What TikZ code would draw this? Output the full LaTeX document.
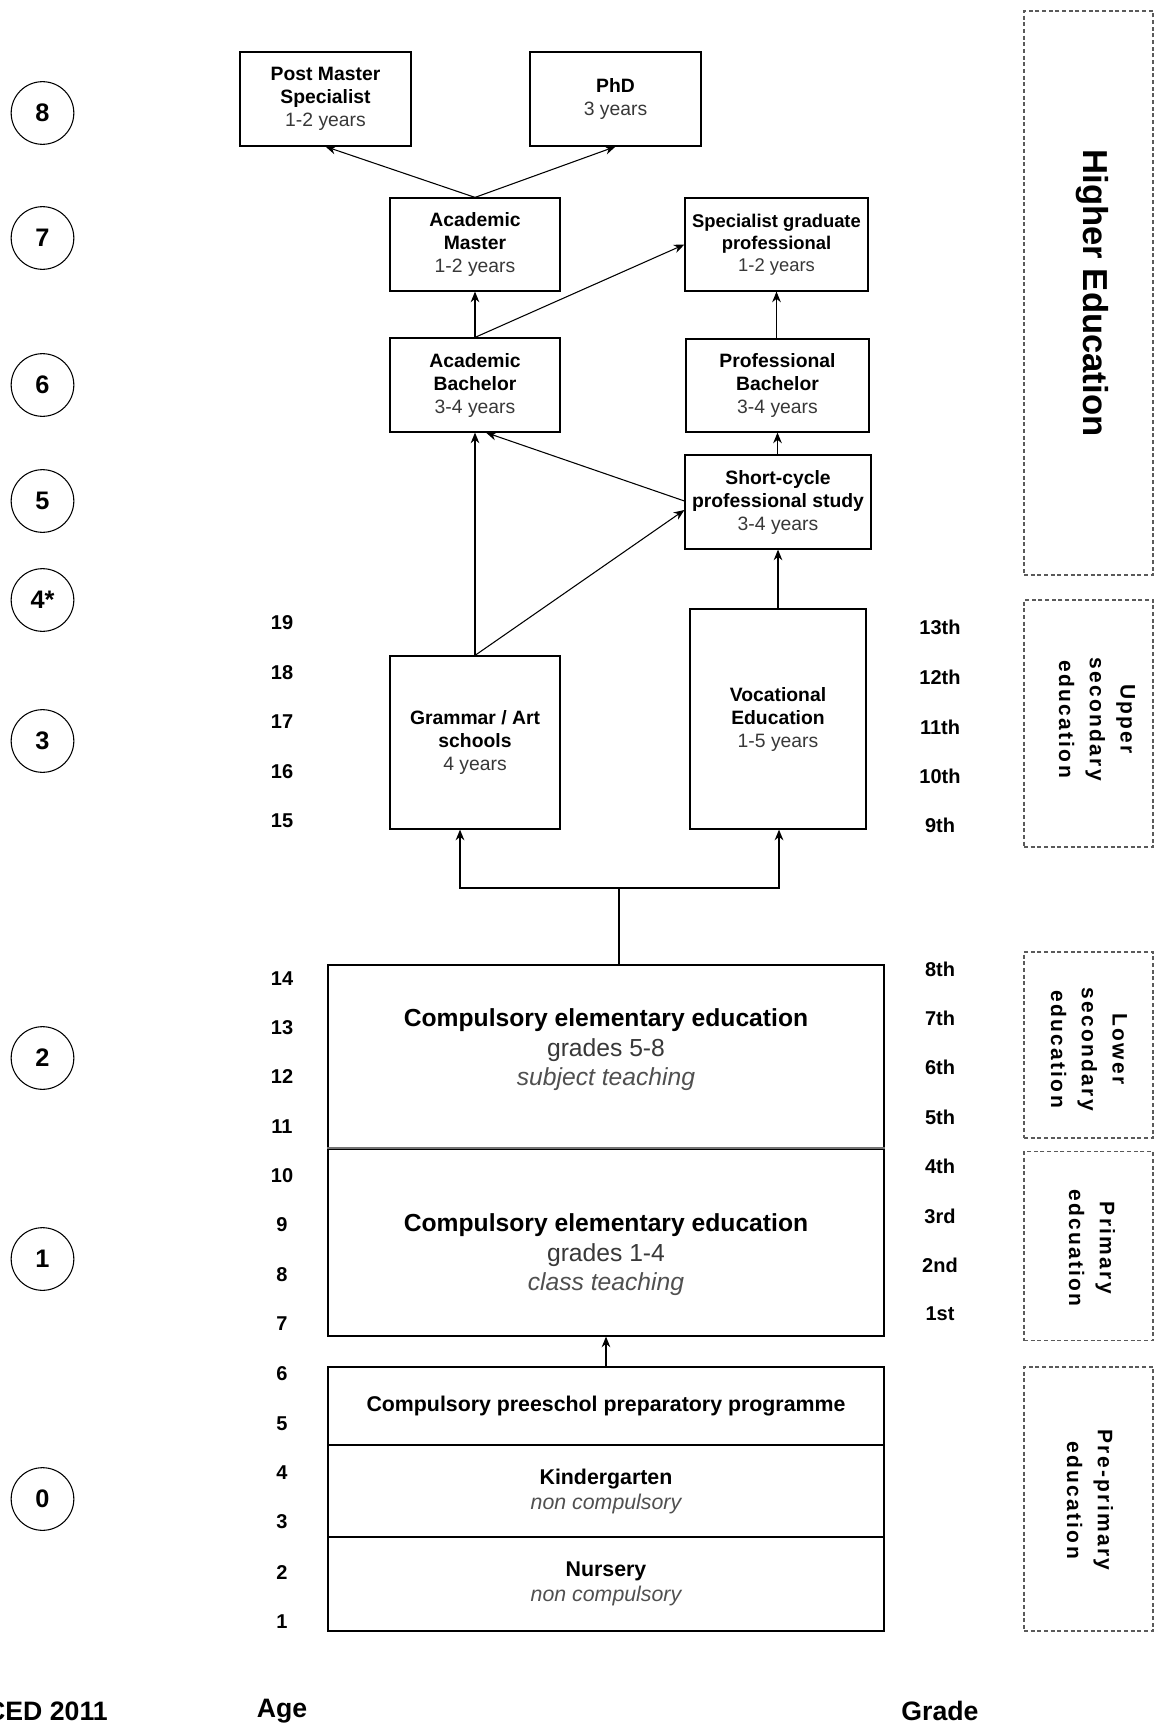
\documentclass[tikz,border=0pt]{standalone}
\usepackage{fontspec}
\setmainfont{Liberation Sans}
\usetikzlibrary{arrows.meta,calc}
\definecolor{tg}{HTML}{383838}
\definecolor{tg2}{HTML}{505050}
\definecolor{dashc}{HTML}{5A5A5A}
\newfontfamily\bandfont[LetterSpace=11]{Liberation Sans}
\begin{document}
\begin{tikzpicture}[x=0.75pt,y=-0.75pt,
  box/.style={draw=black, line width=0.9pt, align=center, inner sep=1pt,
    font=\fontsize{14.5}{17.25}\selectfont},
  wh/.style 2 args={minimum width=#1*0.75pt, minimum height=#2*0.75pt},
  bigbox/.style={draw=black, line width=0.9pt, inner sep=0pt},
  bigtxt/.style={align=center, font=\fontsize{18.5}{22.2}\selectfont},
  pretxt/.style={align=center, font=\fontsize{16}{18.8}\selectfont},
  lvl/.style={circle, draw=black, line width=0.8pt, minimum size=47pt, inner sep=0pt,
    font=\bfseries\fontsize{19}{22}\selectfont},
  agelbl/.style={font=\bfseries\fontsize{15}{18}\selectfont},
  axislbl/.style={font=\bfseries\fontsize{20}{24}\selectfont},
  band/.style={draw=dashc, dash pattern=on 3pt off 2pt, line width=0.8pt, inner sep=0pt},
  bandtxt/.style={rotate=-90, align=center, font=\bandfont\bfseries\fontsize{15.75}{23}\selectfont},
  arr/.style={-{Stealth[length=8pt,width=6.5pt]}, line width=0.8pt},
  tharr/.style={-{Stealth[length=8pt,width=6.5pt]}, line width=1.6pt},
]
\useasboundingbox (0,0) rectangle (1155,1723);
\fill[white] (0,0) rectangle (1155,1723);

% ---------- programme boxes ----------
\node[box,wh={171}{94}] (PM) at (325.5,99) {\textbf{Post Master}\\\textbf{Specialist}\\\textcolor{tg}{1-2 years}};
\node[box,wh={171}{94}] (PhD) at (615.5,99) {\textbf{PhD}\\\textcolor{tg}{3 years}};
\node[box,wh={170}{93}] (AM) at (475,244.5) {\textbf{Academic}\\\textbf{Master}\\\textcolor{tg}{1-2 years}};
\node[box,wh={183}{93},font=\fontsize{13.8}{16.5}\selectfont] (SG) at (776.5,244.5) {\textbf{Specialist graduate}\\\textbf{professional}\\\textcolor{tg}{1-2 years}};
\node[box,wh={170}{94}] (AB) at (475,385) {\textbf{Academic}\\\textbf{Bachelor}\\\textcolor{tg}{3-4 years}};
\node[box,wh={183}{93}] (PB) at (777.5,385.5) {\textbf{Professional}\\\textbf{Bachelor}\\\textcolor{tg}{3-4 years}};
\node[box,wh={186}{94}] (SC) at (778,502) {\textbf{Short-cycle}\\\textbf{professional study}\\\textcolor{tg}{3-4 years}};
\node[box,wh={170}{173}] (GA) at (475,742.5) {\textbf{Grammar / Art}\\\textbf{schools}\\\textcolor{tg}{4 years}};
\node[box,wh={176}{220}] (VE) at (778,719) {\textbf{Vocational}\\\textbf{Education}\\\textcolor{tg}{1-5 years}};

% ---------- compulsory elementary ----------
\node[bigbox,wh={556}{184}] (CE2) at (606,1057) {};
\node[bigbox,wh={556}{187}] (CE1) at (606,1242.5) {};
\draw[draw=black!55, line width=1.5pt] (CE1.north west) -- (CE1.north east);
\node[bigtxt] (CE2t) at (606,1050) {\textbf{Compulsory elementary education}\\\textcolor{tg}{grades 5-8}\\\textcolor{tg2}{\itshape subject teaching}};
\node[bigtxt] (CE1t) at (606,1255) {\textbf{Compulsory elementary education}\\\textcolor{tg}{grades 1-4}\\\textcolor{tg2}{\itshape class teaching}};

% ---------- pre-primary ----------
\node[bigbox,pretxt,wh={556}{78}] (PS) at (606,1406) {\textbf{Compulsory preeschol preparatory programme}};
\node[bigbox,pretxt,wh={556}{92}] (KG) at (606,1491) {\textbf{Kindergarten}\\\textcolor{tg2}{\itshape non compulsory}};
\node[bigbox,pretxt,wh={556}{94}] (NU) at (606,1584) {\textbf{Nursery}\\\textcolor{tg2}{\itshape non compulsory}};

% ---------- connectors ----------
\draw[arr] (AM.north) -- (PM.south);
\draw[arr] (AM.north) -- (PhD.south);
\draw[arr] (AB.north) -- (AM.south);
\draw[arr] (AB.north) -- (SG.west);
\draw[arr] (PB.north -| SG.south) -- (SG.south);
\draw[arr] (SC.north -| PB.south) -- (PB.south);
\draw[arr] (GA.north) -- (AB.south);
\draw[arr] (GA.north) -- ($(SC.west)+(0,8)$);
\draw[arr] ($(SC.west)+(0,-1)$) -- ($(AB.south)+(11,0)$);
\draw[arr] (VE.north) -- (SC.south);
\draw[arr] (PS.north) -- (CE1.south);

\coordinate (fork) at (619,888);
\coordinate (forkL) at (460,888);
\coordinate (forkR) at (779,888);
\draw[line width=1.6pt] (CE2.north -| fork) -- (fork);
\draw[tharr] (fork) -- (forkL) -- (forkL |- GA.south);
\draw[tharr] (fork) -- (forkR) -- (forkR |- VE.south);

% ---------- ISCED levels ----------
\node[lvl] (L8) at (42.5,113) {8};
\node[lvl] (L7) at (42.5,238) {7};
\node[lvl] (L6) at (42.5,385) {6};
\node[lvl] (L5) at (42.5,501) {5};
\node[lvl] (L4) at (42.5,600) {4*};
\node[lvl] (L3) at (42.5,741) {3};
\node[lvl] (L2) at (42.5,1058) {2};
\node[lvl] (L1) at (42.5,1259) {1};
\node[lvl] (L0) at (42.5,1499) {0};

% ---------- ages ----------
\foreach \a/\y in {19/623,18/673,17/722,16/772,15/821,14/979,13/1028,12/1077,11/1127,10/1176,9/1225,8/1275,7/1324,6/1374,5/1424,4/1473,3/1522,2/1572,1/1622}
  \node[agelbl] (age\a) at (282,\y) {\a};

% ---------- grades ----------
\foreach \g/\y in {13th/627,12th/677,11th/727,10th/776,9th/825,8th/969,7th/1018,6th/1067,5th/1117,4th/1166,3rd/1216,2nd/1265,1st/1314}
  \node[agelbl] (gr\g) at (940,\y) {\g};

% ---------- axis labels ----------
\node[axislbl,anchor=east,inner sep=0pt] (isced) at (108,1711) {ISCED 2011};
\node[axislbl] (agehd) at (282,1711) {Age};
\node[axislbl] (gradehd) at (940,1711) {Grade};

% ---------- level bands ----------
\node[band,wh={129}{564}] (HE) at (1088.5,293) {};
\node[rotate=-90, font=\bfseries\fontsize{26}{30}\selectfont] (HEt) at (1092,293) {Higher Education};
\node[band,wh={129}{247}] (US) at (1088.5,723.5) {};
\node[bandtxt] (USt) at (1097,719) {Upper\\secondary\\education};
\node[band,wh={129}{186}] (LS) at (1088.5,1045) {};
\node[bandtxt] (LSt) at (1089,1049) {Lower\\secondary\\education};
\node[band,wh={129}{189}] (PR) at (1088.5,1246) {};
\node[bandtxt] (PRt) at (1092,1248) {Primary\\edcuation};
\node[band,wh={129}{264}] (PP) at (1088.5,1499) {};
\node[bandtxt] (PPt) at (1090,1500) {Pre-primary\\education};
\end{tikzpicture}
\end{document}
